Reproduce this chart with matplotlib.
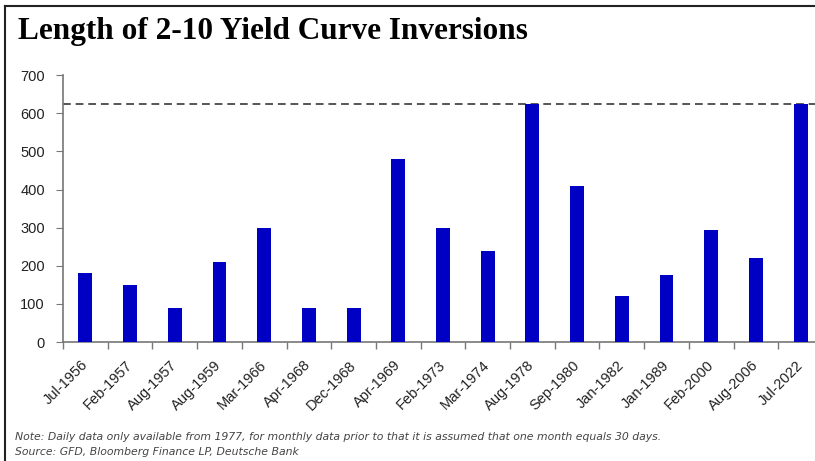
import matplotlib
matplotlib.use("Agg")
import matplotlib.pyplot as plt
from matplotlib.lines import Line2D

# inversion start dates and their length in days
dates = ["Jul-1956", "Feb-1957", "Aug-1957", "Aug-1959", "Mar-1966", "Apr-1968",
         "Dec-1968", "Apr-1969", "Feb-1973", "Mar-1974", "Aug-1978", "Sep-1980",
         "Jan-1982", "Jan-1989", "Feb-2000", "Aug-2006", "Jul-2022"]
days = [180, 150, 90, 210, 300, 90, 90, 480, 300, 240, 625, 410, 120, 175, 295, 220, 625]
longest = 625

fig = plt.figure(figsize=(8.15, 4.61), dpi=100)
ax = fig.add_axes([0.0773, 0.258, 0.9325, 0.579])

x = range(len(dates))
ax.bar(x, days, width=0.31, color="#0000c4", zorder=3)
ax.axhline(longest, color="#555555", lw=1.4, ls=(0, (4, 2.5)), zorder=2)

ax.set_xlim(-0.5, len(dates) - 0.5)
ax.set_ylim(0, 700)
ax.set_yticks(range(0, 701, 100))
ax.set_xticks(x)
ax.set_xticklabels(dates, rotation=45, ha="right", va="center",
                   rotation_mode="anchor", fontsize=10.5, color="#222222",
                   family="Liberation Sans")
ax.set_xticks([i - 0.5 for i in range(len(dates) + 1)], minor=True)
ax.tick_params(axis="x", which="major", length=0, pad=15)
ax.tick_params(axis="x", which="minor", length=5, color="#777777", width=1)
ax.tick_params(axis="y", length=5, color="#777777", labelsize=10.5,
               labelcolor="#222222", pad=8)
for lab in ax.get_yticklabels():
    lab.set_family("Liberation Sans")

for s in ["top", "right"]:
    ax.spines[s].set_visible(False)
for s in ["left", "bottom"]:
    ax.spines[s].set_color("#777777")
    ax.spines[s].set_linewidth(1.2)

fig.text(0.022, 0.915, "Length of 2-10 Yield Curve Inversions", fontsize=22.5,
         fontweight="bold", family="Liberation Serif", va="baseline")

note_font = ["Liberation Sans Narrow", "DejaVu Sans"]
fig.text(0.018, 0.046, "Note: Daily data only available from 1977, for monthly data "
         "prior to that it is assumed that one month equals 30 days.",
         fontsize=7.8, style="italic", color="#444444", family=note_font)
fig.text(0.018, 0.013, "Source: GFD, Bloomberg Finance LP, Deutsche Bank",
         fontsize=7.8, style="italic", color="#444444", family=note_font)

# frame lines along the top and left edges
fig.add_artist(Line2D([0.006, 0.006], [0.0, 0.987], transform=fig.transFigure,
                      color="#222222", lw=1.5))
fig.add_artist(Line2D([0.006, 1.0], [0.987, 0.987], transform=fig.transFigure,
                      color="#222222", lw=1.5))

fig.savefig("out.png", dpi=100)
